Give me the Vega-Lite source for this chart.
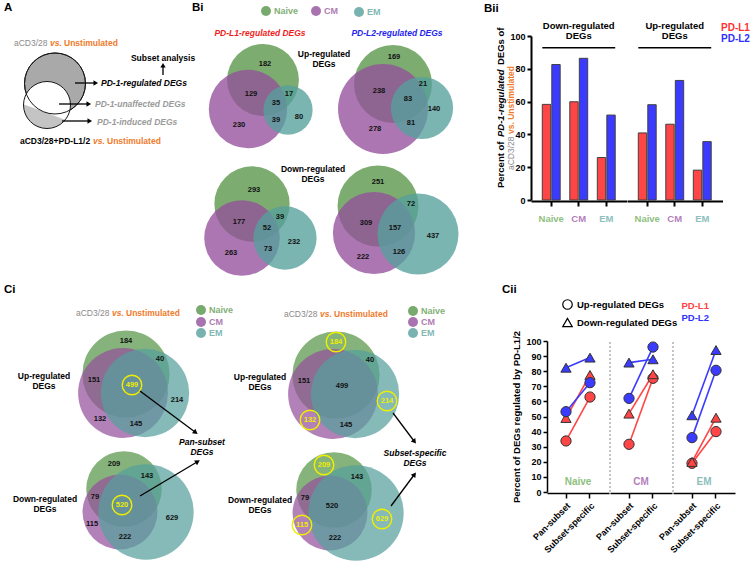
{
"$schema": "https://vega.github.io/schema/vega-lite/v6.json",
"background": "white",
"padding": {"left": 2, "top": 2, "right": 0, "bottom": 0},
"config": {
  "font": "Liberation Sans",
  "view": {"stroke": null},
  "axis": {"domainColor": "black", "tickColor": "black", "labelColor": "black", "titleColor": "black", "grid": false, "labelOverlap": false}
},
"datasets": {
  "vset": [
    {"venn":"L1up","set":"Naive","total":363,"x":261,"y":79},
    {"venn":"L1up","set":"CM","total":433,"x":246,"y":108},
    {"venn":"L1up","set":"EM","total":171,"x":286,"y":109},
    {"venn":"L2up","set":"Naive","total":511,"x":391,"y":83},
    {"venn":"L2up","set":"CM","total":680,"x":381,"y":108},
    {"venn":"L2up","set":"EM","total":325,"x":420,"y":107},
    {"venn":"L1dn","set":"Naive","total":561,"x":250,"y":203},
    {"venn":"L1dn","set":"CM","total":565,"x":240,"y":237},
    {"venn":"L1dn","set":"EM","total":396,"x":283,"y":237},
    {"venn":"L2dn","set":"Naive","total":789,"x":376,"y":205},
    {"venn":"L2dn","set":"CM","total":814,"x":372,"y":232},
    {"venn":"L2dn","set":"EM","total":792,"x":416,"y":233},
    {"venn":"CupL","set":"Naive","total":874,"x":124,"y":373},
    {"venn":"CupL","set":"CM","total":927,"x":121,"y":392},
    {"venn":"CupL","set":"EM","total":898,"x":143,"y":392},
    {"venn":"CdnL","set":"Naive","total":951,"x":122,"y":488},
    {"venn":"CdnL","set":"CM","total":936,"x":118,"y":511},
    {"venn":"CdnL","set":"EM","total":1514,"x":144,"y":511},
    {"venn":"CupR","set":"Naive","total":874,"x":334,"y":374},
    {"venn":"CupR","set":"CM","total":927,"x":331,"y":393},
    {"venn":"CupR","set":"EM","total":898,"x":353,"y":393},
    {"venn":"CdnR","set":"Naive","total":951,"x":332,"y":489},
    {"venn":"CdnR","set":"CM","total":936,"x":328,"y":512},
    {"venn":"CdnR","set":"EM","total":1514,"x":354,"y":512}
  ],
  "cntB": [
    {"venn":"L1up","n":182,"x":263,"y":63},{"venn":"L1up","n":129,"x":249,"y":93},{"venn":"L1up","n":35,"x":274,"y":102},{"venn":"L1up","n":17,"x":287,"y":93},{"venn":"L1up","n":39,"x":274,"y":119},{"venn":"L1up","n":80,"x":297,"y":116},{"venn":"L1up","n":230,"x":237,"y":124},
    {"venn":"L2up","n":169,"x":392,"y":56},{"venn":"L2up","n":238,"x":377,"y":90},{"venn":"L2up","n":21,"x":421,"y":83},{"venn":"L2up","n":83,"x":406,"y":98},{"venn":"L2up","n":140,"x":432,"y":108},{"venn":"L2up","n":81,"x":409,"y":122},{"venn":"L2up","n":278,"x":373,"y":128},
    {"venn":"L1dn","n":293,"x":252,"y":189},{"venn":"L1dn","n":177,"x":237,"y":221},{"venn":"L1dn","n":39,"x":278,"y":216},{"venn":"L1dn","n":52,"x":265,"y":227},{"venn":"L1dn","n":232,"x":292,"y":241},{"venn":"L1dn","n":73,"x":266,"y":248},{"venn":"L1dn","n":263,"x":229,"y":252},
    {"venn":"L2dn","n":251,"x":376,"y":181},{"venn":"L2dn","n":72,"x":409,"y":203},{"venn":"L2dn","n":309,"x":364,"y":222},{"venn":"L2dn","n":157,"x":393,"y":227},{"venn":"L2dn","n":437,"x":431,"y":235},{"venn":"L2dn","n":126,"x":397,"y":251},{"venn":"L2dn","n":222,"x":361,"y":256}
  ],
  "cntC": [
    {"venn":"CupL","n":184,"x":124,"y":340,"hl":false},{"venn":"CupL","n":40,"x":158,"y":358,"hl":false},{"venn":"CupL","n":151,"x":92,"y":379,"hl":false},{"venn":"CupL","n":499,"x":130,"y":384,"hl":true},{"venn":"CupL","n":214,"x":175,"y":399,"hl":false},{"venn":"CupL","n":132,"x":98,"y":418,"hl":false},{"venn":"CupL","n":145,"x":134,"y":423,"hl":false},
    {"venn":"CdnL","n":209,"x":112,"y":463,"hl":false},{"venn":"CdnL","n":143,"x":145,"y":475,"hl":false},{"venn":"CdnL","n":79,"x":93,"y":496,"hl":false},{"venn":"CdnL","n":520,"x":120,"y":504,"hl":true},{"venn":"CdnL","n":629,"x":170,"y":517,"hl":false},{"venn":"CdnL","n":115,"x":90,"y":523,"hl":false},{"venn":"CdnL","n":222,"x":123,"y":536,"hl":false},
    {"venn":"CupR","n":184,"x":334,"y":341,"hl":true},{"venn":"CupR","n":40,"x":368,"y":359,"hl":false},{"venn":"CupR","n":151,"x":302,"y":380,"hl":false},{"venn":"CupR","n":499,"x":340,"y":385,"hl":false},{"venn":"CupR","n":214,"x":385,"y":400,"hl":true},{"venn":"CupR","n":132,"x":308,"y":419,"hl":true},{"venn":"CupR","n":145,"x":344,"y":424,"hl":false},
    {"venn":"CdnR","n":209,"x":322,"y":464,"hl":true},{"venn":"CdnR","n":143,"x":355,"y":476,"hl":false},{"venn":"CdnR","n":79,"x":303,"y":497,"hl":false},{"venn":"CdnR","n":520,"x":330,"y":505,"hl":false},{"venn":"CdnR","n":629,"x":380,"y":518,"hl":true},{"venn":"CdnR","n":115,"x":300,"y":524,"hl":true},{"venn":"CdnR","n":222,"x":333,"y":537,"hl":false}
  ],
  "arrowsA": [
    {"x":161,"y":74,"x2":161,"y2":65},
    {"x":73,"y":82,"x2":93,"y2":82},
    {"x":57,"y":103,"x2":86,"y2":103},
    {"x":60,"y":120,"x2":87,"y2":120}
  ],
  "arrowsC": [
    {"x":138,"y":390,"x2":193,"y2":431},
    {"x":138,"y":495,"x2":195,"y2":461},
    {"x":391,"y":412,"x2":412,"y2":440},
    {"x":389,"y":505,"x2":412,"y2":474}
  ],
  "legB": [
    {"set":"Naive","x":264,"y":10},{"set":"CM","x":314,"y":10},{"set":"EM","x":357,"y":11}
  ],
  "legC": [
    {"set":"Naive","x":199,"y":309},{"set":"CM","x":199,"y":321},{"set":"EM","x":199,"y":332},
    {"set":"Naive","x":411,"y":310},{"set":"CM","x":411,"y":321},{"set":"EM","x":411,"y":332}
  ],
  "bii": [
    {"dir":"Down-regulated DEGs","subset":"Naive","ligand":"PD-L1","pct":58.3},
    {"dir":"Down-regulated DEGs","subset":"Naive","ligand":"PD-L2","pct":82.6},
    {"dir":"Down-regulated DEGs","subset":"CM","ligand":"PD-L1","pct":59.9},
    {"dir":"Down-regulated DEGs","subset":"CM","ligand":"PD-L2","pct":86.4},
    {"dir":"Down-regulated DEGs","subset":"EM","ligand":"PD-L1","pct":25.9},
    {"dir":"Down-regulated DEGs","subset":"EM","ligand":"PD-L2","pct":51.8},
    {"dir":"Up-regulated DEGs","subset":"Naive","ligand":"PD-L1","pct":40.9},
    {"dir":"Up-regulated DEGs","subset":"Naive","ligand":"PD-L2","pct":58.1},
    {"dir":"Up-regulated DEGs","subset":"CM","ligand":"PD-L1","pct":46.2},
    {"dir":"Up-regulated DEGs","subset":"CM","ligand":"PD-L2","pct":72.9},
    {"dir":"Up-regulated DEGs","subset":"EM","ligand":"PD-L1","pct":18.2},
    {"dir":"Up-regulated DEGs","subset":"EM","ligand":"PD-L2","pct":35.6}
  ],
  "cii": [
    {"subset":"Naive","type":"Pan-subset","ligand":"PD-L1","dir":"Up","pct":33.8},
    {"subset":"Naive","type":"Subset-specific","ligand":"PD-L1","dir":"Up","pct":62.9},
    {"subset":"Naive","type":"Pan-subset","ligand":"PD-L1","dir":"Down","pct":49},
    {"subset":"Naive","type":"Subset-specific","ligand":"PD-L1","dir":"Down","pct":77.5},
    {"subset":"Naive","type":"Pan-subset","ligand":"PD-L2","dir":"Up","pct":53.2},
    {"subset":"Naive","type":"Subset-specific","ligand":"PD-L2","dir":"Up","pct":72.4},
    {"subset":"Naive","type":"Pan-subset","ligand":"PD-L2","dir":"Down","pct":82.3},
    {"subset":"Naive","type":"Subset-specific","ligand":"PD-L2","dir":"Down","pct":89},
    {"subset":"CM","type":"Pan-subset","ligand":"PD-L1","dir":"Up","pct":31.6},
    {"subset":"CM","type":"Subset-specific","ligand":"PD-L1","dir":"Up","pct":75.3},
    {"subset":"CM","type":"Pan-subset","ligand":"PD-L1","dir":"Down","pct":51.9},
    {"subset":"CM","type":"Subset-specific","ligand":"PD-L1","dir":"Down","pct":78},
    {"subset":"CM","type":"Pan-subset","ligand":"PD-L2","dir":"Up","pct":62},
    {"subset":"CM","type":"Subset-specific","ligand":"PD-L2","dir":"Up","pct":96},
    {"subset":"CM","type":"Pan-subset","ligand":"PD-L2","dir":"Down","pct":85.7},
    {"subset":"CM","type":"Subset-specific","ligand":"PD-L2","dir":"Down","pct":87.9},
    {"subset":"EM","type":"Pan-subset","ligand":"PD-L1","dir":"Up","pct":19},
    {"subset":"EM","type":"Subset-specific","ligand":"PD-L1","dir":"Up","pct":40},
    {"subset":"EM","type":"Pan-subset","ligand":"PD-L1","dir":"Down","pct":19.9},
    {"subset":"EM","type":"Subset-specific","ligand":"PD-L1","dir":"Down","pct":49.2},
    {"subset":"EM","type":"Pan-subset","ligand":"PD-L2","dir":"Up","pct":36},
    {"subset":"EM","type":"Subset-specific","ligand":"PD-L2","dir":"Up","pct":80.6},
    {"subset":"EM","type":"Pan-subset","ligand":"PD-L2","dir":"Down","pct":50.8},
    {"subset":"EM","type":"Subset-specific","ligand":"PD-L2","dir":"Down","pct":94}
  ]
},
"bounds": "flush",
"spacing": 305,
"resolve": {"scale": {"color": "independent", "size": "independent", "shape": "independent", "fill": "independent"}},
"vconcat": [
 {
  "hconcat": [
   {
    "width": 470, "height": 164,
    "encoding": {
      "x": {"field": "x", "type": "quantitative", "axis": null, "scale": {"domain": [0, 470], "nice": false, "zero": false}},
      "y": {"field": "y", "type": "quantitative", "axis": null, "scale": {"domain": [35, 199], "nice": false, "zero": false, "reverse": true}}
    },
    "resolve": {"scale": {"size": "independent"}},
    "layer": [
      {"data": {"values": [{"x": 53, "y": 82.5}]}, "mark": {"type": "point", "shape": "circle", "filled": true, "fill": "#a9a9a9", "stroke": "#1a1a1a", "strokeWidth": 1, "size": 3721, "opacity": 1}},
      {"data": {"values": [{"x": 45, "y": 104}]}, "mark": {"type": "point", "shape": "circle", "filled": true, "fill": {"gradient": "linear", "x1": 0.675, "y1": 0.031, "x2": 0.325, "y2": 0.969, "stops": [{"offset": 0, "color": "#ffffff"}, {"offset": 0.65, "color": "#ffffff"}, {"offset": 0.67, "color": "#c4c4c4"}, {"offset": 1, "color": "#c4c4c4"}]}, "stroke": "#1a1a1a", "strokeWidth": 1, "size": 2209, "opacity": 1}},
      {"data": {"values": [{"x": 53, "y": 82.5}]}, "mark": {"type": "point", "shape": "circle", "filled": false, "stroke": "#1a1a1a", "strokeWidth": 1, "size": 3721, "opacity": 1}},
      {"data": {"name": "arrowsA"}, "mark": {"type": "rule", "color": "black", "strokeWidth": 1.3}, "encoding": {"x2": {"field": "x2"}, "y2": {"field": "y2"}}},
      {"data": {"name": "arrowsA"}, "transform": [{"calculate": "atan2(datum.x2 - datum.x, datum.y - datum.y2) * 180 / PI", "as": "ang"}],
       "mark": {"type": "point", "shape": "triangle", "filled": true, "color": "black", "size": 28, "opacity": 1},
       "encoding": {"x": {"field": "x2", "type": "quantitative", "scale": {"domain": [0, 470], "nice": false, "zero": false}}, "y": {"field": "y2", "type": "quantitative", "scale": {"domain": [35, 199], "nice": false, "zero": false, "reverse": true}}, "angle": {"field": "ang", "type": "quantitative", "scale": null}}},
      {"data": {"values": [{"t": "A", "x": 2, "y": 7}, {"t": "Bi", "x": 190, "y": 7}, {"t": "Bii", "x": 482, "y": 8}]}, "mark": {"type": "text", "fontSize": 11.5, "fontWeight": "bold", "align": "left", "baseline": "middle", "color": "black"}, "encoding": {"text": {"field": "t"}}},
      {"data": {"values": [{"t": "aCD3/28", "x": 12, "y": 42}]}, "mark": {"type": "text", "fontSize": 8.5, "align": "left", "baseline": "middle", "color": "#8a8a8a"}, "encoding": {"text": {"field": "t"}}},
      {"data": {"values": [{"t": "vs.", "x": 48, "y": 42}, {"t": "vs.", "x": 91, "y": 140}]}, "mark": {"type": "text", "fontSize": 8.5, "fontWeight": "bold", "fontStyle": "italic", "align": "left", "baseline": "middle", "color": "#f07a2a"}, "encoding": {"text": {"field": "t"}}},
      {"data": {"values": [{"t": "Unstimulated", "x": 62, "y": 42}, {"t": "Unstimulated", "x": 105, "y": 140}]}, "mark": {"type": "text", "fontSize": 8.5, "fontWeight": "bold", "align": "left", "baseline": "middle", "color": "#f07a2a"}, "encoding": {"text": {"field": "t"}}},
      {"data": {"values": [{"t": "aCD3/28+PD-L1/2", "x": 18, "y": 140}]}, "mark": {"type": "text", "fontSize": 8.5, "fontWeight": "bold", "align": "left", "baseline": "middle", "color": "black"}, "encoding": {"text": {"field": "t"}}},
      {"data": {"values": [{"t": "Subset analysis", "x": 161, "y": 57}, {"t": "Up-regulated", "x": 322, "y": 53}, {"t": "DEGs", "x": 322, "y": 63}, {"t": "Down-regulated", "x": 311, "y": 168}, {"t": "DEGs", "x": 311, "y": 178}]}, "mark": {"type": "text", "fontSize": 8.5, "fontWeight": "bold", "align": "center", "baseline": "middle", "color": "black"}, "encoding": {"text": {"field": "t"}}},
      {"data": {"values": [{"t": "PD-1-regulated DEGs", "x": 99, "y": 82}]}, "mark": {"type": "text", "fontSize": 8.5, "fontWeight": "bold", "fontStyle": "italic", "align": "left", "baseline": "middle", "color": "black"}, "encoding": {"text": {"field": "t"}}},
      {"data": {"values": [{"t": "PD-1-unaffected DEGs", "x": 93, "y": 103}, {"t": "PD-1-induced DEGs", "x": 95, "y": 121}]}, "mark": {"type": "text", "fontSize": 8.5, "fontWeight": "bold", "fontStyle": "italic", "align": "left", "baseline": "middle", "color": "#9a9a9a"}, "encoding": {"text": {"field": "t"}}},
      {"data": {"values": [{"t": "PD-L1-regulated DEGs", "x": 258, "y": 32}]}, "mark": {"type": "text", "fontSize": 8.5, "fontWeight": "bold", "fontStyle": "italic", "align": "center", "baseline": "middle", "color": "#f01c1c"}, "encoding": {"text": {"field": "t"}}},
      {"data": {"values": [{"t": "PD-L2-regulated DEGs", "x": 395, "y": 32}]}, "mark": {"type": "text", "fontSize": 8.5, "fontWeight": "bold", "fontStyle": "italic", "align": "center", "baseline": "middle", "color": "#2424ee"}, "encoding": {"text": {"field": "t"}}},
      {"data": {"values": [{"t": "Percent of", "x": 499, "y": 187}, {"t": "DEGs of", "x": 499, "y": 64}]}, "mark": {"type": "text", "fontSize": 9.5, "fontWeight": "bold", "angle": 270, "align": "left", "baseline": "middle", "color": "black"}, "encoding": {"text": {"field": "t"}}},
      {"data": {"values": [{"t": "PD-1-regulated", "x": 499, "y": 136}]}, "mark": {"type": "text", "fontSize": 9.5, "fontWeight": "bold", "fontStyle": "italic", "angle": 270, "align": "left", "baseline": "middle", "color": "black"}, "encoding": {"text": {"field": "t"}}},
      {"data": {"values": [{"t": "aCD3/28", "x": 509, "y": 169}]}, "mark": {"type": "text", "fontSize": 8.5, "angle": 270, "align": "left", "baseline": "middle", "color": "#8a8a8a"}, "encoding": {"text": {"field": "t"}}},
      {"data": {"values": [{"t": "vs. Unstimulated", "x": 509, "y": 133}]}, "mark": {"type": "text", "fontSize": 8.5, "fontWeight": "bold", "angle": 270, "align": "left", "baseline": "middle", "color": "#f07a2a"}, "encoding": {"text": {"field": "t"}}},
      {"data": {"name": "legB"}, "mark": {"type": "point", "shape": "circle", "filled": true, "size": 100, "opacity": 0.8, "strokeWidth": 0}, "encoding": {"color": {"field": "set", "type": "nominal", "scale": {"domain": ["Naive", "CM", "EM"], "range": ["#579548", "#94509b", "#56a09c"]}, "legend": null}}},
      {"data": {"name": "legB"}, "mark": {"type": "text", "align": "left", "baseline": "middle", "dx": 8, "fontSize": 9, "fontWeight": "bold", "opacity": 0.75}, "encoding": {"text": {"field": "set"}, "color": {"field": "set", "type": "nominal", "legend": null}}},
      {"data": {"name": "vset"}, "transform": [{"filter": "datum.venn == 'L1up'"}], "mark": {"type": "point", "shape": "circle", "filled": true, "opacity": 0.78, "strokeWidth": 0}, "encoding": {"color": {"field": "set", "type": "nominal", "legend": null}, "size": {"field": "total", "type": "quantitative", "legend": null, "scale": {"domain": [0, 1000], "range": [0, 14200]}}}},
      {"data": {"name": "vset"}, "transform": [{"filter": "datum.venn == 'L2up'"}], "mark": {"type": "point", "shape": "circle", "filled": true, "opacity": 0.78, "strokeWidth": 0}, "encoding": {"color": {"field": "set", "type": "nominal", "legend": null}, "size": {"field": "total", "type": "quantitative", "legend": null, "scale": {"domain": [0, 1000], "range": [0, 11900]}}}},
      {"data": {"name": "vset"}, "transform": [{"filter": "datum.venn == 'L1dn'"}], "mark": {"type": "point", "shape": "circle", "filled": true, "opacity": 0.78, "strokeWidth": 0}, "encoding": {"color": {"field": "set", "type": "nominal", "legend": null}, "size": {"field": "total", "type": "quantitative", "legend": null, "scale": {"domain": [0, 1000], "range": [0, 10100]}}}},
      {"data": {"name": "vset"}, "transform": [{"filter": "datum.venn == 'L2dn'"}], "mark": {"type": "point", "shape": "circle", "filled": true, "opacity": 0.78, "strokeWidth": 0}, "encoding": {"color": {"field": "set", "type": "nominal", "legend": null}, "size": {"field": "total", "type": "quantitative", "legend": null, "scale": {"domain": [0, 1000], "range": [0, 8300]}}}},
      {"data": {"name": "cntB"}, "mark": {"type": "text", "fontSize": 7.5, "fontWeight": "bold", "align": "center", "baseline": "middle", "color": "#111"}, "encoding": {"text": {"field": "n"}}}
    ]
   },
   {
    "data": {"name": "bii"},
    "facet": {"column": {"field": "dir", "type": "nominal", "sort": ["Down-regulated DEGs", "Up-regulated DEGs"], "header": null}},
    "spacing": 0,
    "spec": {
      "width": 95.5, "height": 164,
      "encoding": {
        "x": {"field": "subset", "type": "nominal", "sort": ["Naive", "CM", "EM"], "scale": {"paddingInner": 0.35, "paddingOuter": 0.41},
              "axis": {"title": null, "labelAngle": 0, "labelFontWeight": "bold", "labelFontSize": 9.5, "labelPadding": 7, "tickSize": 5, "tickWidth": 2, "domainWidth": 2,
                       "labelColor": {"expr": "datum.label == 'Naive' ? '#8fbf80' : datum.label == 'CM' ? '#b47fbb' : '#8dbfbd'"}}}
      },
      "layer": [
        {"mark": {"type": "bar", "stroke": "#404040", "strokeWidth": 1},
         "encoding": {
           "xOffset": {"field": "ligand", "type": "nominal", "sort": ["PD-L1", "PD-L2"], "scale": {"paddingInner": 0.12}},
           "y": {"field": "pct", "type": "quantitative", "scale": {"domain": [0, 100], "nice": false}, "axis": {"title": null, "values": [0, 20, 40, 60, 80, 100], "labelFontWeight": "bold", "labelFontSize": 9, "tickSize": 4, "tickWidth": 2, "domainWidth": 2, "labelPadding": 2, "labelOverlap": false}},
           "color": {"field": "ligand", "type": "nominal", "scale": {"domain": ["PD-L1", "PD-L2"], "range": ["#ff4545", "#3b3bff"]},
                     "legend": {"orient": "none", "legendX": 180, "legendY": -13, "title": null, "symbolSize": 0, "symbolStrokeWidth": 0, "symbolOpacity": 0, "labelOffset": 0, "labelFontSize": 10, "labelFontWeight": "bold", "rowPadding": 1,
                                "labelColor": {"expr": "datum.label == 'PD-L1' ? '#ff3030' : '#2f2fff'"}}}
         }},
        {"transform": [{"aggregate": [{"op": "count", "as": "n"}], "groupby": ["dir"]}],
         "mark": {"type": "text", "fontWeight": "bold", "fontSize": 9.5, "lineBreak": " ", "baseline": "alphabetic", "lineHeight": 10.5, "align": "center"},
         "encoding": {"x": {"datum": "CM"}, "y": {"datum": 104.3, "type": "quantitative", "axis": {"title": null, "values": [0, 20, 40, 60, 80, 100], "labelFontWeight": "bold", "labelFontSize": 9, "tickSize": 4, "tickWidth": 2, "domainWidth": 2, "labelPadding": 2, "labelOverlap": false}}, "text": {"field": "dir"}}},
        {"transform": [{"aggregate": [{"op": "count", "as": "n"}], "groupby": ["dir"]}],
         "mark": {"type": "rule", "strokeWidth": 1.5, "color": "black"},
         "encoding": {"x": {"datum": "Naive", "bandPosition": 0}, "x2": {"datum": "EM", "bandPosition": 1}, "y": {"datum": 92.9, "type": "quantitative", "axis": {"title": null, "values": [0, 20, 40, 60, 80, 100], "labelFontWeight": "bold", "labelFontSize": 9, "tickSize": 4, "tickWidth": 2, "domainWidth": 2, "labelPadding": 2, "labelOverlap": false}}}}
      ]
    }
   }
  ],
  "spacing": 59,
  "bounds": "flush",
  "resolve": {"scale": {"color": "independent", "size": "independent", "shape": "independent", "fill": "independent"}}
 },
 {
  "hconcat": [
   {
    "width": 480, "height": 151,
    "encoding": {
      "x": {"field": "x", "type": "quantitative", "axis": null, "scale": {"domain": [0, 480], "nice": false, "zero": false}},
      "y": {"field": "y", "type": "quantitative", "axis": null, "scale": {"domain": [340, 491], "nice": false, "zero": false, "reverse": true}}
    },
    "resolve": {"scale": {"size": "independent"}},
    "layer": [
      {"data": {"values": [{"t": "Ci", "x": 2, "y": 289}, {"t": "Cii", "x": 500, "y": 289}]}, "mark": {"type": "text", "fontSize": 11.5, "fontWeight": "bold", "align": "left", "baseline": "middle", "color": "black"}, "encoding": {"text": {"field": "t"}}},
      {"data": {"values": [{"t": "aCD3/28", "x": 74, "y": 312}, {"t": "aCD3/28", "x": 282, "y": 313}]}, "mark": {"type": "text", "fontSize": 8.5, "align": "left", "baseline": "middle", "color": "#8a8a8a"}, "encoding": {"text": {"field": "t"}}},
      {"data": {"values": [{"t": "vs.", "x": 110, "y": 312}, {"t": "vs.", "x": 318, "y": 313}]}, "mark": {"type": "text", "fontSize": 8.5, "fontWeight": "bold", "fontStyle": "italic", "align": "left", "baseline": "middle", "color": "#f07a2a"}, "encoding": {"text": {"field": "t"}}},
      {"data": {"values": [{"t": "Unstimulated", "x": 124, "y": 312}, {"t": "Unstimulated", "x": 332, "y": 313}]}, "mark": {"type": "text", "fontSize": 8.5, "fontWeight": "bold", "align": "left", "baseline": "middle", "color": "#f07a2a"}, "encoding": {"text": {"field": "t"}}},
      {"data": {"values": [{"t": "Up-regulated", "x": 42, "y": 375}, {"t": "DEGs", "x": 42, "y": 385}, {"t": "Up-regulated", "x": 258, "y": 376}, {"t": "DEGs", "x": 258, "y": 386}, {"t": "Down-regulated", "x": 43, "y": 498}, {"t": "DEGs", "x": 43, "y": 508}, {"t": "Down-regulated", "x": 258, "y": 499}, {"t": "DEGs", "x": 258, "y": 509}]}, "mark": {"type": "text", "fontSize": 8.5, "fontWeight": "bold", "align": "center", "baseline": "middle", "color": "black"}, "encoding": {"text": {"field": "t"}}},
      {"data": {"values": [{"t": "Pan-subset", "x": 200, "y": 441}, {"t": "DEGs", "x": 200, "y": 451}, {"t": "Subset-specific", "x": 413, "y": 452}, {"t": "DEGs", "x": 413, "y": 462}]}, "mark": {"type": "text", "fontSize": 8.5, "fontWeight": "bold", "fontStyle": "italic", "align": "center", "baseline": "middle", "color": "black"}, "encoding": {"text": {"field": "t"}}},
      {"data": {"name": "legC"}, "mark": {"type": "point", "shape": "circle", "filled": true, "size": 100, "opacity": 0.8, "strokeWidth": 0}, "encoding": {"color": {"field": "set", "type": "nominal", "scale": {"domain": ["Naive", "CM", "EM"], "range": ["#579548", "#94509b", "#56a09c"]}, "legend": null}}},
      {"data": {"name": "legC"}, "mark": {"type": "text", "align": "left", "baseline": "middle", "dx": 8, "fontSize": 9, "fontWeight": "bold", "opacity": 0.75}, "encoding": {"text": {"field": "set"}, "color": {"field": "set", "type": "nominal", "legend": null}}},
      {"data": {"name": "vset"}, "transform": [{"filter": "datum.venn == 'CupL' || datum.venn == 'CupR'"}], "mark": {"type": "point", "shape": "circle", "filled": true, "opacity": 0.72, "strokeWidth": 0}, "encoding": {"color": {"field": "set", "type": "nominal", "legend": null}, "size": {"field": "total", "type": "quantitative", "legend": null, "scale": {"domain": [0, 1000], "range": [0, 8700]}}}},
      {"data": {"name": "vset"}, "transform": [{"filter": "datum.venn == 'CdnL' || datum.venn == 'CdnR'"}], "mark": {"type": "point", "shape": "circle", "filled": true, "opacity": 0.72, "strokeWidth": 0}, "encoding": {"color": {"field": "set", "type": "nominal", "legend": null}, "size": {"field": "total", "type": "quantitative", "legend": null, "scale": {"domain": [0, 1000], "range": [0, 6000]}}}},
      {"data": {"name": "cntC"}, "transform": [{"filter": "!datum.hl"}], "mark": {"type": "text", "fontSize": 7.5, "fontWeight": "bold", "align": "center", "baseline": "middle", "color": "#111"}, "encoding": {"text": {"field": "n"}}},
      {"data": {"name": "cntC"}, "transform": [{"filter": "datum.hl"}], "mark": {"type": "point", "shape": "circle", "filled": false, "stroke": "#eeee00", "strokeWidth": 1.4, "size": 380, "opacity": 1}},
      {"data": {"name": "cntC"}, "transform": [{"filter": "datum.hl"}], "mark": {"type": "text", "fontSize": 7.5, "fontWeight": "bold", "align": "center", "baseline": "middle", "color": "#eeee00"}, "encoding": {"text": {"field": "n"}}},
      {"data": {"name": "arrowsC"}, "mark": {"type": "rule", "color": "black", "strokeWidth": 1.3}, "encoding": {"x2": {"field": "x2"}, "y2": {"field": "y2"}}},
      {"data": {"name": "arrowsC"}, "transform": [{"calculate": "atan2(datum.x2 - datum.x, datum.y - datum.y2) * 180 / PI", "as": "ang"}],
       "mark": {"type": "point", "shape": "triangle", "filled": true, "color": "black", "size": 32, "opacity": 1},
       "encoding": {"x": {"field": "x2", "type": "quantitative", "scale": {"domain": [0, 480], "nice": false, "zero": false}}, "y": {"field": "y2", "type": "quantitative", "scale": {"domain": [340, 491], "nice": false, "zero": false, "reverse": true}}, "angle": {"field": "ang", "type": "quantitative", "scale": null}}}
    ]
   },
   {
    "data": {"name": "cii"},
    "facet": {"column": {"field": "subset", "type": "nominal", "sort": ["Naive", "CM", "EM"], "header": null}},
    "spacing": 0,
    "spec": {
      "width": 62, "height": 151,
      "encoding": {
        "x": {"field": "type", "type": "nominal", "sort": ["Pan-subset", "Subset-specific"], "scale": {"paddingInner": 0, "paddingOuter": 0.2917},
              "axis": {"title": null, "labelAngle": -45, "labelAlign": "right", "labelBaseline": "top", "labelFontWeight": "bold", "labelFontSize": 9, "labelPadding": 3, "tickSize": 5, "tickWidth": 1.5, "domainWidth": 1.5}}
      },
      "layer": [
        {"transform": [{"filter": "datum.subset != 'Naive'"}, {"aggregate": [{"op": "count", "as": "n"}], "groupby": ["subset"]}],
         "mark": {"type": "rule", "strokeDash": [2, 2], "color": "#888888", "strokeWidth": 1},
         "encoding": {"x": {"datum": "Pan-subset", "bandPosition": -0.2917},
                      "y": {"datum": 0, "type": "quantitative", "axis": {"title": "Percent of DEGs regulated by PD-L1/2", "titleFontSize": 9.5, "titleFontWeight": "bold", "values": [0, 10, 20, 30, 40, 50, 60, 70, 80, 90, 100], "labelFontWeight": "bold", "labelFontSize": 9, "tickSize": 4, "tickWidth": 1.5, "domainWidth": 1.5, "labelPadding": 2, "titlePadding": 4, "labelOverlap": false}},
                      "y2": {"datum": 100}}},
        {"mark": {"type": "line", "strokeWidth": 1.6},
         "encoding": {
           "y": {"field": "pct", "type": "quantitative", "scale": {"domain": [0, 100], "nice": false},
                 "axis": {"title": "Percent of DEGs regulated by PD-L1/2", "titleFontSize": 9.5, "titleFontWeight": "bold", "values": [0, 10, 20, 30, 40, 50, 60, 70, 80, 90, 100], "labelFontWeight": "bold", "labelFontSize": 9, "tickSize": 4, "tickWidth": 1.5, "domainWidth": 1.5, "labelPadding": 2, "titlePadding": 4, "labelOverlap": false}},
           "color": {"field": "ligand", "type": "nominal", "scale": {"domain": ["PD-L1", "PD-L2"], "range": ["#ff4545", "#3b3bff"]},
                     "legend": {"orient": "none", "legendX": 125, "legendY": -40, "title": null, "symbolSize": 0, "symbolStrokeWidth": 0, "symbolOpacity": 0, "labelOffset": 0, "labelFontSize": 9.5, "labelFontWeight": "bold", "rowPadding": 1,
                                "labelColor": {"expr": "datum.label == 'PD-L1' ? '#ff4040' : '#3030ff'"}}},
           "detail": {"field": "dir"}
         }},
        {"mark": {"type": "point", "filled": true, "stroke": "#333333", "strokeWidth": 1, "size": 105, "opacity": 1},
         "encoding": {
           "y": {"field": "pct", "type": "quantitative", "axis": {"title": "Percent of DEGs regulated by PD-L1/2", "titleFontSize": 9.5, "titleFontWeight": "bold", "values": [0, 10, 20, 30, 40, 50, 60, 70, 80, 90, 100], "labelFontWeight": "bold", "labelFontSize": 9, "tickSize": 4, "tickWidth": 1.5, "domainWidth": 1.5, "labelPadding": 2, "titlePadding": 4, "labelOverlap": false}},
           "color": {"field": "ligand", "type": "nominal", "scale": {"domain": ["PD-L1", "PD-L2"], "range": ["#ff4545", "#3b3bff"]},
                     "legend": {"orient": "none", "legendX": 125, "legendY": -40, "title": null, "symbolSize": 0, "symbolStrokeWidth": 0, "symbolOpacity": 0, "labelOffset": 0, "labelFontSize": 9.5, "labelFontWeight": "bold", "rowPadding": 1,
                                "labelColor": {"expr": "datum.label == 'PD-L1' ? '#ff4040' : '#3030ff'"}}},
           "shape": {"field": "dir", "type": "nominal", "scale": {"domain": ["Up", "Down"], "range": ["circle", "triangle-up"]},
                     "legend": {"orient": "none", "legendX": 15, "legendY": -42, "title": null, "labelExpr": "datum.label == 'Up' ? 'Up-regulated DEGs' : 'Down-regulated DEGs'", "symbolFillColor": "white", "symbolStrokeColor": "black", "symbolStrokeWidth": 1.2, "symbolSize": 90, "labelFontSize": 9.5, "labelFontWeight": "bold", "rowPadding": 3, "labelOffset": 4}}
         }},
        {"transform": [{"aggregate": [{"op": "count", "as": "n"}], "groupby": ["subset"]}],
         "mark": {"type": "text", "fontWeight": "bold", "fontSize": 10, "align": "center", "baseline": "middle"},
         "encoding": {"x": {"datum": "Pan-subset", "bandPosition": 1},
                      "y": {"datum": 6.5, "type": "quantitative", "axis": {"title": "Percent of DEGs regulated by PD-L1/2", "titleFontSize": 9.5, "titleFontWeight": "bold", "values": [0, 10, 20, 30, 40, 50, 60, 70, 80, 90, 100], "labelFontWeight": "bold", "labelFontSize": 9, "tickSize": 4, "tickWidth": 1.5, "domainWidth": 1.5, "labelPadding": 2, "titlePadding": 4, "labelOverlap": false}},
                      "text": {"field": "subset"},
                      "fill": {"field": "subset", "type": "nominal", "scale": {"domain": ["Naive", "CM", "EM"], "range": ["#8fbf80", "#b47fbb", "#8dbfbd"]}, "legend": null}}}
      ]
    }
   }
  ],
  "spacing": 65,
  "bounds": "flush",
  "resolve": {"scale": {"color": "independent", "size": "independent", "shape": "independent", "fill": "independent"}}
 }
]
}
